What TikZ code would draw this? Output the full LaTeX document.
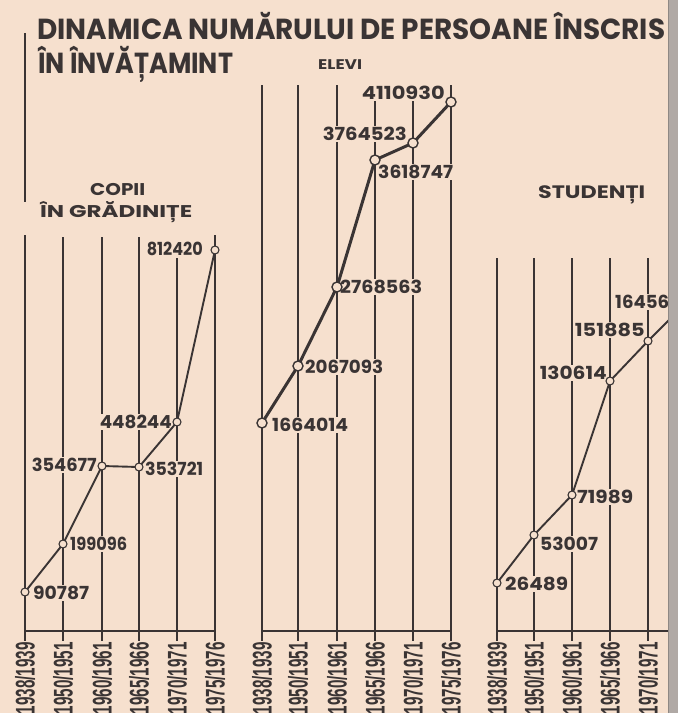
\documentclass[tikz,border=0pt]{standalone}
\usepackage{fontspec}
\setmainfont{Poppins}[Numbers=Proportional]
\newfontfamily\yearfont{Liberation Sans}
\usepackage{graphicx}
\definecolor{paper}{HTML}{F6E0CE}
\definecolor{ink}{HTML}{3A3434}
\definecolor{edge}{HTML}{B0A9A5}
\definecolor{edgeline}{HTML}{8E8884}
\newsavebox\fitbox
\newlength\fitlen
\newcommand\fitto[2]{\sbox\fitbox{#2}\setlength\fitlen{\wd\fitbox}\pgfmathsetmacro\fitratio{#1/\fitlen}\scalebox{\fitratio}[1]{\usebox\fitbox}}
\tikzset{
  grid/.style={draw=ink, line width=1.1pt},
  axis/.style={draw=ink, line width=2.3pt},
  base/.style={draw=ink, line width=2.6pt},
  dataA/.style={draw=ink, line width=1.9pt},
  dataB/.style={draw=ink, line width=3pt},
  ptA/.style={circle, draw=ink, fill=paper, line width=1.1pt, inner sep=0pt, minimum size=8pt},
  ptB/.style={circle, draw=ink, fill=paper, line width=1.4pt, inner sep=0pt, minimum size=10pt},
  lab/.style={fill=paper, inner sep=1pt, text=ink, font=\bfseries\fontsize{18}{18}\selectfont},
  yr/.style={rotate=90, anchor=east, inner sep=0pt, text=ink, font=\yearfont\bfseries\fontsize{27}{27}\selectfont},
  ttl/.style={inner sep=0pt, anchor=base west, text=ink, font=\bfseries},
}
\begin{document}
\begin{tikzpicture}[x=1pt,y=-1pt]
\useasboundingbox (0,0) rectangle (678,713);
\fill[paper] (0,0) rectangle (678,713);

% ---------- titles
\node[ttl, font=\bfseries\fontsize{29}{30}\selectfont] (t1) at (37,39) {\fitto{628}{DINAMICA NUMĂRULUI DE PERSOANE ÎNSCRIS}};
\node[ttl, font=\bfseries\fontsize{29}{30}\selectfont] (t2) at (38,73) {\fitto{195}{ÎN ÎNVĂȚAMINT}};
\node[ttl, font=\bfseries\fontsize{14}{14}\selectfont] (t3) at (318,69) {\fitto{44}{ELEVI}};
\node[ttl, font=\bfseries\fontsize{17}{17}\selectfont] (t4) at (90,195) {\fitto{55}{COPII}};
\node[ttl, font=\bfseries\fontsize{17}{17}\selectfont] (t5) at (40,217) {\fitto{152}{ÎN GRĂDINIȚE}};
\node[ttl, font=\bfseries\fontsize{18}{18}\selectfont] (t6) at (538,198) {\fitto{107}{STUDENȚI}};

% ---------- chart 1 grid
\draw[axis] (25,33) -- (25,202);
\draw[axis] (25,235) -- (25,641);
\foreach \x/\t in {63/237,102/237,139/237,177/258}{\draw[grid] (\x,\t) -- (\x,641);}
\draw[axis] (215,235) -- (215,641);
\draw[base] (25,631) -- (215,631);

% ---------- chart 2 grid
\draw[axis] (262,85) -- (262,641);
\foreach \x/\t in {298/85,337/85,375/100,413/100}{\draw[grid] (\x,\t) -- (\x,641);}
\draw[axis] (451,85) -- (451,641);
\draw[base] (262,631) -- (451,631);

% ---------- chart 3 grid
\draw[axis] (497,258) -- (497,641);
\foreach \x in {534,572,610,648}{\draw[grid] (\x,258) -- (\x,641);}
\draw[base] (497,631) -- (678,631);

% ---------- year labels
\foreach \x/\y in {25/{1938/1939},63/{1950/1951},102/{1960/1961},139/{1965/1966},177/{1970/1971},215/{1975/1976},
                   262/{1938/1939},298/{1950/1951},337/{1960/1961},375/{1965/1966},413/{1970/1971},451/{1975/1976},
                   497/{1938/1939},534/{1950/1951},572/{1960/1961},610/{1965/1966},648/{1970/1971}}
  {\node[yr] at (\x,642) {\fitto{72}{\y}};}

% ---------- value labels chart 1
\node[lab, anchor=west] (v11) at (32,593) {\fitto{56}{90787}};
\node[lab, anchor=west] (v12) at (69,544) {\fitto{57}{199096}};
\node[lab, anchor=east] (v13) at (98,465) {\fitto{65}{354677}};
\node[lab, anchor=west] (v14) at (144,469) {\fitto{58}{353721}};
\node[lab, anchor=east] (v15) at (173,422) {\fitto{72}{448244}};
\node[lab, anchor=east] (v16) at (204,249) {\fitto{56}{812420}};
% chart 2
\node[lab, anchor=west] (v21) at (271,425) {\fitto{76}{1664014}};
\node[lab, anchor=west] (v22) at (304,367) {\fitto{78}{2067093}};
\node[lab, anchor=west] (v23) at (339,287) {\fitto{82}{2768563}};
\node[lab, anchor=west] (v24) at (377,172) {\fitto{75}{3618747}};
\node[lab, anchor=east] (v25) at (408,134) {\fitto{84}{3764523}};
\node[lab, anchor=east] (v26) at (446,93) {\fitto{83}{4110930}};
% chart 3
\node[lab, anchor=west] (v31) at (504,584) {\fitto{63}{26489}};
\node[lab, anchor=west] (v32) at (539,544) {\fitto{58}{53007}};
\node[lab, anchor=west] (v33) at (576,497) {\fitto{56}{71989}};
\node[lab, anchor=east] (v34) at (608,373) {\fitto{67}{130614}};
\node[lab, anchor=east] (v35) at (646,330) {\fitto{70}{151885}};
\node[lab, anchor=west] (v36) at (614,302) {\fitto{54}{16456}};

% ---------- data points
\coordinate (a1) at (25,592);  \coordinate (a2) at (63,544);  \coordinate (a3) at (102,466);
\coordinate (a4) at (139,467); \coordinate (a5) at (177,422); \coordinate (a6) at (215,250);
\coordinate (b1) at (262,423); \coordinate (b2) at (298,366); \coordinate (b3) at (337,287);
\coordinate (b4) at (375,160); \coordinate (b5) at (413,143); \coordinate (b6) at (451,102);
\coordinate (c1) at (497,583); \coordinate (c2) at (534,535); \coordinate (c3) at (572,495);
\coordinate (c4) at (610,381); \coordinate (c5) at (648,341); \coordinate (c6) at (672,317);

\draw[dataA] (a1) -- (a2) -- (a3) -- (a4) -- (a5) -- (a6);
\draw[dataB] (b1) -- (b2) -- (b3) -- (b4) -- (b5) -- (b6);
\draw[dataA] (c1) -- (c2) -- (c3) -- (c4) -- (c5) -- (c6);

\foreach \p in {a1,a2,a3,a4,a5,a6,c1,c2,c3,c4,c5}{\node[ptA] at (\p) {};}
\foreach \p in {b1,b2,b3,b4,b5,b6}{\node[ptB] at (\p) {};}

% ---------- page edge
\fill[edge] (668,0) rectangle (678,713);
\draw[edgeline, line width=1pt] (668.5,0) -- (668.5,713);
\end{tikzpicture}
\end{document}
